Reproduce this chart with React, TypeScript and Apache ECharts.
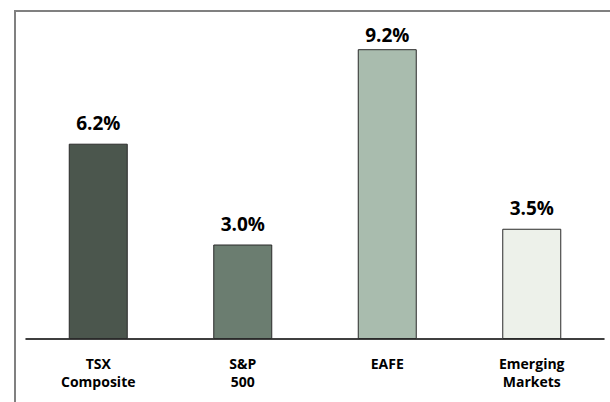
import React, { useEffect, useRef } from "react";
import * as echarts from "echarts";

const categories = ["TSX\nComposite", "S&P\n500", "EAFE", "Emerging\nMarkets"];
const values = [6.2, 3.0, 9.2, 3.5];
const barColors = ["#4b564d", "#6b7d70", "#a9bcae", "#edf1ea"];
const labelGaps = [11, 11, 5, 11];

export default function App() {
  const ref = useRef<HTMLDivElement>(null);
  useEffect(() => {
    const chart = echarts.init(ref.current!, null, { renderer: "svg" });
    chart.setOption({
      animation: false,
      backgroundColor: "#ffffff",
      grid: { left: 26, right: 6, top: 24, bottom: 63 },
      graphic: [
        {
          type: "polyline",
          silent: true,
          shape: { points: [[15, 402], [15, 11], [610, 11]] },
          style: { stroke: "#808080", lineWidth: 2, fill: "none" },
        },
      ],
      xAxis: {
        type: "category",
        data: categories,
        axisLine: { lineStyle: { color: "#000000", width: 1.5 } },
        axisTick: { show: false },
        axisLabel: {
          color: "#000000",
          fontFamily: "Open Sans",
          fontWeight: "bold",
          fontSize: 14,
          lineHeight: 18,
          margin: 15,
          letterSpacing: -0.8,
        },
      },
      yAxis: {
        type: "value",
        min: 0,
        max: 10,
        show: false,
        splitLine: { show: false },
      },
      series: [
        {
          type: "bar",
          barWidth: 59,
          data: values.map((v, i) => ({
            value: v,
            itemStyle: { color: barColors[i], borderColor: "#2a2a2a", borderWidth: 1 },
            label: { distance: labelGaps[i] },
          })),
          label: {
            show: true,
            position: "top",
            formatter: (p: any) => p.value.toFixed(1) + "%",
            color: "#000000",
            fontFamily: "Open Sans",
            fontWeight: "bold",
            fontSize: 19,
            letterSpacing: -1,
          },
        },
      ],
    });
    return () => chart.dispose();
  }, []);
  return <div ref={ref} style={{ width: 610, height: 402, position: "absolute", left: 0, top: 0 }} />;
}
